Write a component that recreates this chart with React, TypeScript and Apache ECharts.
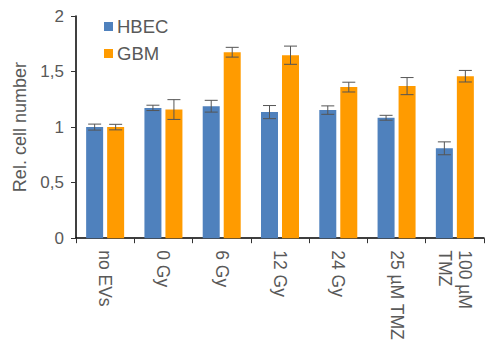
import React, { useEffect, useRef } from "react";
import * as echarts from "echarts";

const categories = ["no EVs", "0 Gy", "6 Gy", "12 Gy", "24 Gy", "25 µM TMZ", "100 µM\nTMZ"];
const hbecValues = [1.0, 1.173, 1.188, 1.135, 1.153, 1.084, 0.809];
const hbecErrors = [0.027, 0.024, 0.053, 0.059, 0.038, 0.022, 0.058];
const gbmValues = [1.0, 1.158, 1.674, 1.647, 1.36, 1.369, 1.458];
const gbmErrors = [0.025, 0.089, 0.044, 0.082, 0.044, 0.077, 0.052];
const yTicks = [0, 0.5, 1, 1.5, 2];

const BAR_W = 17;
const BAR_GAP = 4;
const FONT = "'Liberation Sans', Arial, sans-serif";
const TEXT = "#595959";

function errorSeries(name: string, values: number[], errors: number[], offset: number) {
  return {
    type: "custom",
    name: name + "-err",
    silent: true,
    z: 5,
    data: values.map((v, i) => [i, v - errors[i], v + errors[i]]),
    renderItem: (_params: any, api: any) => {
      const i = api.value(0);
      const lo = api.coord([i, api.value(1)]);
      const hi = api.coord([i, api.value(2)]);
      const x = lo[0] + offset;
      const cap = 6.5;
      const style = { stroke: "#555555", lineWidth: 1 };
      return {
        type: "group",
        children: [
          { type: "line", shape: { x1: x, y1: hi[1], x2: x, y2: lo[1] }, style },
          { type: "line", shape: { x1: x - cap, y1: hi[1], x2: x + cap, y2: hi[1] }, style },
          { type: "line", shape: { x1: x - cap, y1: lo[1], x2: x + cap, y2: lo[1] }, style },
        ],
      };
    },
  };
}

export default function App() {
  const ref = useRef<HTMLDivElement>(null);

  useEffect(() => {
    if (!ref.current) return;
    const chart = echarts.init(ref.current, null, { renderer: "svg" });
    const half = BAR_W / 2 + BAR_GAP / 2;
    chart.setOption({
      animation: false,
      textStyle: { fontFamily: FONT },
      grid: { left: 76, right: 1, top: 16, bottom: 102, containLabel: false },
      legend: {
        orient: "vertical",
        left: 104,
        top: 17,
        padding: 0,
        itemWidth: 9,
        itemHeight: 9,
        itemGap: 8,
        icon: "rect",
        data: ["HBEC", "GBM"],
        textStyle: { fontFamily: FONT, fontSize: 18.5, color: TEXT, padding: [0, 0, 0, -1], lineHeight: 19 },
      },
      xAxis: {
        type: "category",
        data: categories,
        axisLine: { lineStyle: { color: "#000", width: 1.5 } },
        axisTick: { show: true, length: 5, lineStyle: { color: "#333" } },
        axisLabel: {
          rotate: -90,
          margin: 12,
          fontSize: 17.5,
          color: TEXT,
          fontFamily: FONT,
          lineHeight: 20,
          interval: 0,
        },
      },
      yAxis: {
        type: "value",
        min: 0,
        max: 2,
        interval: 0.5,
        name: "Rel. cell number",
        nameLocation: "middle",
        nameGap: 43,
        nameTextStyle: { fontSize: 18, color: TEXT, fontFamily: FONT },
        axisLine: { show: true, lineStyle: { color: "#000", width: 1.5 } },
        axisTick: { show: true, length: 5, lineStyle: { color: "#333" } },
        splitLine: { show: false },
        axisLabel: {
          margin: 12,
          fontSize: 17,
          color: TEXT,
          fontFamily: FONT,
          formatter: (v: number) => (yTicks.includes(v) ? String(v).replace(".", ",") : ""),
        },
      },
      series: [
        {
          type: "bar",
          name: "HBEC",
          data: hbecValues,
          barWidth: BAR_W,
          barGap: (BAR_GAP / BAR_W) * 100 + "%",
          itemStyle: { color: "#4f81bd" },
        },
        {
          type: "bar",
          name: "GBM",
          data: gbmValues,
          barWidth: BAR_W,
          itemStyle: { color: "#ff9b00" },
        },
        errorSeries("HBEC", hbecValues, hbecErrors, -half),
        errorSeries("GBM", gbmValues, gbmErrors, half),
      ],
    });
    return () => chart.dispose();
  }, []);

  return (
    <div
      ref={ref}
      style={{ position: "absolute", left: 0, top: 0, width: 485, height: 343 }}
    />
  );
}
